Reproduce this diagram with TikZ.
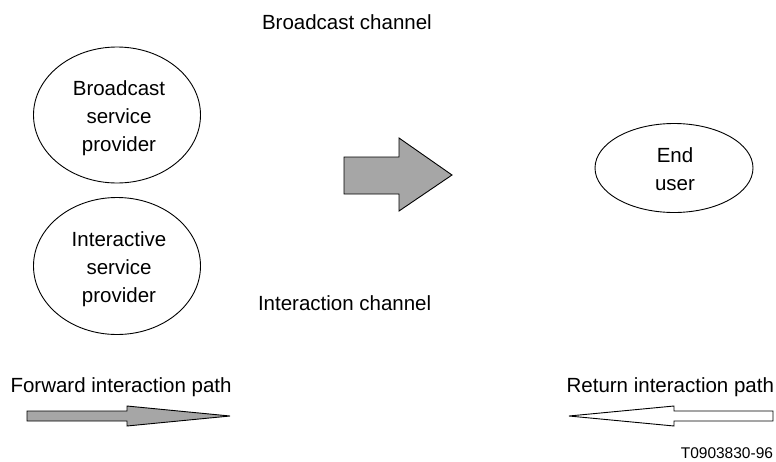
\documentclass[tikz,border=0pt]{standalone}
\usepackage{fontspec}
\setmainfont{Liberation Sans}
\usetikzlibrary{shapes.geometric}
\definecolor{arrowgray}{RGB}{166,166,166}
\begin{document}
\begin{tikzpicture}[x=1pt,y=-1pt,
  every node/.style={inner sep=0pt,outer sep=0pt},
  lbl/.style={font=\fontsize{20.5}{28}\selectfont},
  oval/.style={ellipse,draw,line width=0.9pt},
  fatarrow/.style={draw,line width=0.9pt,line join=miter}]
\useasboundingbox (0,0) rectangle (776,461);
% titles
\node[lbl,anchor=base west] (bc) at (262,29) {Broadcast channel};
\node[lbl,anchor=base west] (ic) at (258,310) {Interaction channel};
% ellipses
\node[oval,minimum width=167pt,minimum height=136pt] (bsp) at (117,115) {};
\node[lbl,align=center] (bspt) at (119,118.5) {Broadcast\\service\\provider};
\node[oval,minimum width=167pt,minimum height=137pt] (isp) at (117,266) {};
\node[lbl,align=center] (ispt) at (119,269.5) {Interactive\\service\\provider};
\node[oval,minimum width=158pt,minimum height=89pt] (eu) at (674,168) {};
\node[lbl,align=center] (eut) at (675,169) {End\\user};
% big broadcast arrow
\draw[fatarrow,fill=arrowgray] (344,157) -- (399,157) -- (399,138) -- (452,175) -- (399,211) -- (399,194) -- (344,194) -- cycle;
% path labels
\node[lbl,anchor=base west] (fip) at (10.5,392) {Forward interaction path};
\node[lbl,anchor=base east] (rip) at (774,392) {Return interaction path};
% forward arrow
\draw[fatarrow,fill=arrowgray] (27,411) -- (127,411) -- (127,406) -- (230,416) -- (127,426) -- (127,421) -- (27,421) -- cycle;
% return arrow
\draw[fatarrow,fill=white] (773,411) -- (674,411) -- (674,406) -- (569,416) -- (674,426) -- (674,421) -- (773,421) -- cycle;
% figure id
\node[anchor=base east,font=\fontsize{15.5}{18}\selectfont] (fid) at (773,458) {T0903830-96};
\end{tikzpicture}
\end{document}
